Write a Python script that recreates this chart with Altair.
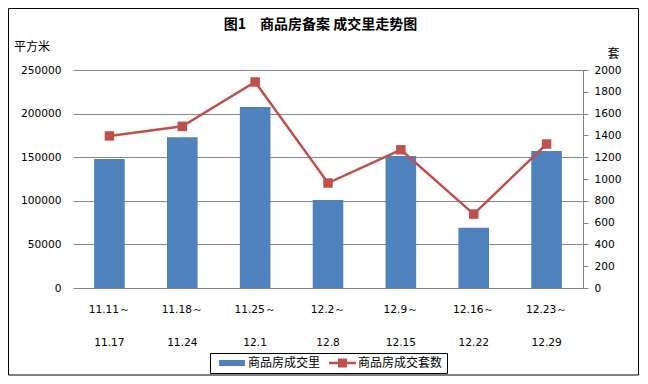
import altair as alt
import pandas as pd

# ---- data ----
weeks_start = ["11.11～", "11.18～", "11.25～", "12.2～", "12.9～", "12.16～", "12.23～"]
weeks_end = ["11.17", "11.24", "12.1", "12.8", "12.15", "12.22", "12.29"]
area = [148000, 173000, 207500, 101000, 151500, 69000, 157000]   # 商品房成交量 (平方米)
units = [1395, 1483, 1890, 963, 1268, 678, 1321]                  # 商品房成交套数 (套)

title_text = "图1　商品房备案 成交里走势图"
left_title = "平方米"
right_title = "套"
series = ["商品房成交里", "商品房成交套数"]
left_ticks = [0, 50000, 100000, 150000, 200000, 250000]
right_ticks = [0, 200, 400, 600, 800, 1000, 1200, 1400, 1600, 1800, 2000]

BLUE = "#4F81BD"
RED = "#C0504D"
GRID = "#868686"
LATIN = "DejaVu Sans"
CJK = "Noto Sans CJK SC"

W, H = 510, 218

df = pd.DataFrame({
    "week": [f"{a}|{b}" for a, b in zip(weeks_start, weeks_end)],
    "area": area,
    "units": units,
})
order = list(df["week"])

x = alt.X(
    "week:N", sort=order,
    scale=alt.Scale(paddingInner=0.58, paddingOuter=0.29),
    axis=alt.Axis(title=None, ticks=False, domain=False, grid=False, labelAngle=0,
                  labelExpr="split(datum.label, '|')", labelLineHeight=33,
                  labelPadding=16, labelFont=LATIN, labelFontSize=10.6,
                  labelColor="#000", labelOverlap=False),
)

bars = alt.Chart(df).mark_bar(color=BLUE).encode(
    x=x,
    y=alt.Y("area:Q", scale=alt.Scale(domain=[0, 250000], nice=False),
            axis=alt.Axis(orient="left", values=left_ticks, format="d", grid=True,
                          gridColor=GRID, gridWidth=1, domain=False, ticks=False,
                          labelPadding=12, labelFont=LATIN, labelFontSize=10.6,
                          labelColor="#000", title=left_title, titleAngle=0,
                          titleX=-59.5, titleY=-24, titleAlign="left",
                          titleBaseline="middle", titleFont=CJK, titleFontSize=12,
                          titleFontWeight="normal", titleColor="#000")),
)

line = alt.Chart(df).mark_line(
    color=RED, strokeWidth=2.5,
    point=alt.OverlayMarkDef(shape="square", size=90, filled=True, color=RED, opacity=1),
).encode(
    x=x,
    y=alt.Y("units:Q", scale=alt.Scale(domain=[0, 2000], nice=False),
            axis=alt.Axis(orient="right", values=right_ticks, format="d", grid=False,
                          domain=True, domainColor=GRID, ticks=True, tickColor=GRID,
                          tickSize=5, labelPadding=6, labelFont=LATIN,
                          labelFontSize=10.6, labelColor="#000", title=right_title,
                          titleAngle=0, titleX=30, titleY=-17, titleAlign="center",
                          titleBaseline="middle", titleFont=CJK, titleFontSize=12,
                          titleFontWeight="normal", titleColor="#000")),
)

bar_path = "M-0.17,-0.5H4.17V0.5H-0.17Z"
line_path = "M-0.17,-0.2H4.33V0.2H-0.17ZM1.33,-0.75H2.83V0.75H1.33Z"

leg_def = alt.Legend(title=None, orient="none", legendX=137, legendY=283,
                     direction="horizontal", columns=2, columnPadding=3, padding=4,
                     strokeColor="#000", symbolSize=144, symbolStrokeWidth=0,
                     labelOffset=22, labelFont=CJK, labelFontSize=12,
                     labelColor="#000", symbolOpacity=1)

legend_df = pd.DataFrame({"series": series})
legend_layer = alt.Chart(legend_df).transform_filter("false").mark_point(
    filled=True, opacity=1, size=144
).encode(
    color=alt.Color("series:N", scale=alt.Scale(domain=series, range=[BLUE, RED]),
                    legend=leg_def),
    shape=alt.Shape("series:N", scale=alt.Scale(domain=series, range=[bar_path, line_path]),
                    legend=leg_def),
)

frame = alt.Chart(pd.DataFrame({"f": [1]})).mark_rect(
    fill=None, stroke="#000", strokeWidth=1
).encode(x=alt.value(-64.5), x2=alt.value(565.5), y=alt.value(-61.5), y2=alt.value(305))

title = alt.Chart(pd.DataFrame({"t": [title_text]})).mark_text(
    font=CJK, fontSize=14, fontWeight="bold", color="#000",
    align="center", baseline="middle"
).encode(x=alt.value(247.5), y=alt.value(-45), text="t:N")

chart = alt.layer(frame, bars, line, legend_layer, title).resolve_scale(
    y="independent"
).properties(
    width=W, height=H, padding=0, background="white"
).configure_view(stroke=None)

chart.save("out.html", embed_options={"renderer": "svg", "actions": False})
